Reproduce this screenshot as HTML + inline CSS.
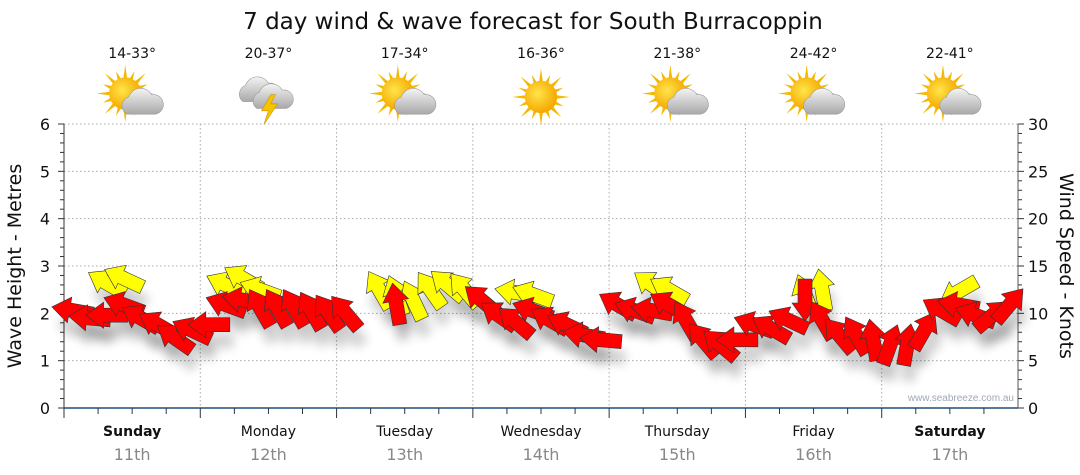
<!DOCTYPE html>
<html><head><meta charset="utf-8"><style>
body{margin:0;background:#fff;font-family:"DejaVu Sans","Liberation Sans",sans-serif}
svg{display:block}
</style></head><body>
<svg id="chart" width="1080" height="475" viewBox="0 0 1080 475" xmlns="http://www.w3.org/2000/svg" font-family="DejaVu Sans, Liberation Sans, sans-serif">
<defs>
<filter id="sh" x="-50%" y="-50%" width="200%" height="250%"><feGaussianBlur stdDeviation="5"/></filter>
<radialGradient id="sun" cx="0.4" cy="0.4" r="0.6"><stop offset="0" stop-color="#ffe54a"/><stop offset="1" stop-color="#f5a800"/></radialGradient>
<linearGradient id="cloud" x1="0" y1="0" x2="0" y2="1"><stop offset="0" stop-color="#f4f4f4"/><stop offset="1" stop-color="#a8a8a8"/></linearGradient>
</defs>
<text x="533" y="29" font-size="23" text-anchor="middle" fill="#111">7 day wind &amp; wave forecast for South Burracoppin</text>
<g id="icons"></g>
<g id="grid"></g>
<g id="axes"></g>
<text transform="translate(21,266) rotate(-90)" font-size="19" text-anchor="middle" fill="#111">Wave Height - Metres</text>
<text transform="translate(1060,266) rotate(90)" font-size="19" text-anchor="middle" fill="#111">Wind Speed - Knots</text>
<text x="1014" y="401" font-size="10" text-anchor="end" fill="#a0a8b4" font-family="Liberation Sans, sans-serif">www.seabreeze.com.au</text>
<g id="shadows"></g>
<g id="arrows"></g>
</svg>
<script>
const days = ["Sunday","Monday","Tuesday","Wednesday","Thursday","Friday","Saturday"];
const dates = ["11th","12th","13th","14th","15th","16th","17th"];
const boldDays = [true,false,false,false,false,false,true];
const temps = ["14-33°","20-37°","17-34°","16-36°","21-38°","24-42°","22-41°"];
const icons = ["partly","storm","partly","sunny","partly","partly","partly"];
const waveTicks = [0,1,2,3,4,5,6];
const knotTicks = [0,5,10,15,20,25,30];
// wind speed (knots) every 3 hours, 8 per day
const windKnots = [10.3,9.5,9.8,10.9,9.5,8.8,7.4,8.2, 8.8,10.9,11.4,10.6,10.6,10.6,10.3,10.1,
 10.1,null,null,11.0,null,null,null,null, 11.4,9.8,9.1,10.3,9.3,8.8,7.7,7.2,
 10.9,10.3,10.3,10.9,9.3,7.2,6.7,7.2, 8.8,8.4,9.3,11.4,9.3,7.7,7.7,7.2,
 6.7,6.7,8.2,10.3,10.9,9.8,9.8,10.9];
// wind direction (degrees, from) for red series
const windDir = [100,95,90,110,120,120,125,115, 90,110,100,150,150,150,150,145,
 140,0,0,170,0,0,0,0, 130,125,130,110,120,115,100,95,
 120,110,100,120,150,140,130,90, 110,120,115,0,150,140,150,170,
 200,190,210,120,100,110,230,220];
// yellow series (knots)
const gustKnots = [null,null,13.2,13.7,null,null,null,null, null,13.0,13.7,12.5,null,null,null,null,
 null,null,12.5,11.9,11.4,12.5,13.0,12.5, null,null,12.2,12.0,null,null,null,null,
 null,null,13.0,12.5,null,null,null,null, null,null,null,12.0,12.5,null,null,null,
 null,null,null,null,12.3,null,null,null];
const gustDir = [0,0,120,115,0,0,0,0, 0,115,120,110,0,0,0,0,
 0,0,150,160,155,145,130,140, 0,0,100,110,0,0,0,0,
 0,0,125,120,0,0,0,0, 0,0,0,160,170,0,0,0,
 0,0,0,0,60,0,0,0];

const NS="http://www.w3.org/2000/svg";
const X0=64,X1=1018,Y0=408,Y1=124,DW=(X1-X0)/7;
const yK=k=>Y0-(Y0-Y1)*k/30;
const xI=i=>X0+(i+0.5)*DW/8;
function mk(tag,attrs,parent){const e=document.createElementNS(NS,tag);for(const k in attrs)e.setAttribute(k,attrs[k]);parent.appendChild(e);return e;}
const grid=document.getElementById('grid'),axes=document.getElementById('axes');
waveTicks.forEach(m=>{
 const y=Y0-(Y0-Y1)*m/6;
 if(m>0){const l=mk('line',{x1:X0,x2:X1,y1:y,y2:y,stroke:'#aaa','stroke-dasharray':'1.5,2.5'},grid);
 }
 const t=mk('text',{x:X0-14,y:y+6,'font-size':16,'text-anchor':'end',fill:'#111'},axes);t.textContent=m;
 
 mk('line',{x1:X0-6,x2:X0,y1:y,y2:y,stroke:'#333'},axes);
 for(let j=1;j<5&&m<6;j++){const yy=y-(Y0-Y1)/6*j/5;mk('line',{x1:X0-4,x2:X0,y1:yy,y2:yy,stroke:'#333'},axes);}
});
knotTicks.forEach(k=>{
 const y=yK(k);
 const t=mk('text',{x:X1+10,y:y+6,'font-size':16,fill:'#111'},axes);t.textContent=k;
 
 mk('line',{x1:X1,x2:X1+6,y1:y,y2:y,stroke:'#333'},axes);
 for(let j=1;j<5&&k<30;j++){const yy=y-(Y0-Y1)/30*j;mk('line',{x1:X1,x2:X1+4,y1:yy,y2:yy,stroke:'#333'},axes);}
});
mk('line',{x1:X0,x2:X0,y1:Y1,y2:Y0,stroke:'#333'},axes);
mk('line',{x1:X1,x2:X1,y1:Y1,y2:Y0,stroke:'#555'},axes);
mk('line',{x1:X0,x2:X1,y1:Y0,y2:Y0,stroke:'#1d4f7a','stroke-width':1.5},axes);
days.forEach((d,i)=>{
 const xs=X0+i*DW,xc=xs+DW/2;
 if(i>0){const l=mk('line',{x1:xs,x2:xs,y1:Y1,y2:Y0,stroke:'#aaa','stroke-dasharray':'1.5,2.5'},grid);
 }
 for(let q=0;q<4;q++){const xx=xs+q*DW/4;mk('line',{x1:xx,x2:xx,y1:Y0,y2:Y0+(q==0?10:6),stroke:'#333'},axes);}
 const t=mk('text',{x:xc,y:436,'font-size':14,'text-anchor':'middle',fill:'#111','font-weight':boldDays[i]?'bold':'normal'},axes);t.textContent=d;
 
 const t2=mk('text',{x:xc,y:460,'font-size':16,'text-anchor':'middle',fill:'#888'},axes);t2.textContent=dates[i];
 
 const t3=mk('text',{x:xc,y:58,'font-size':14,'text-anchor':'middle',fill:'#111'},axes);t3.textContent=temps[i];
 
 drawIcon(icons[i],xc,97);
});
function drawIcon(type,cx,cy){
 const g=mk('g',{transform:`translate(${cx},${cy}) scale(1.15)`},document.getElementById('icons'));
 
 if(type!=='storm'){
  const sx=type==='sunny'?0:-6,sy=type==='sunny'?0:-3;
  for(let a=0;a<16;a++){const r=a*Math.PI/8,L=a%2?21:25;
   mk('polygon',{points:`${sx+Math.cos(r-0.15)*12},${sy+Math.sin(r-0.15)*12} ${sx+Math.cos(r)*L},${sy+Math.sin(r)*L} ${sx+Math.cos(r+0.15)*12},${sy+Math.sin(r+0.15)*12}`,fill:'#f5b800'},g);}
  mk('circle',{cx:sx,cy:sy,r:14,fill:'url(#sun)'},g);
  if(type==='partly'){
   mk('path',{d:'M-4,15 a8,8 0 0 1 1,-15 a11,11 0 0 1 20,-2 a8,8 0 0 1 3,17 z',fill:'url(#cloud)',stroke:'#999','stroke-width':0.5},g);
  }
 } else {
  mk('path',{d:'M-22,4 a8,8 0 0 1 2,-14 a11,11 0 0 1 20,-2 a8,8 0 0 1 3,16 z',fill:'url(#cloud)',stroke:'#999','stroke-width':0.5},g);
  mk('path',{d:'M-10,10 a8,8 0 0 1 2,-14 a11,11 0 0 1 20,-2 a8,8 0 0 1 3,16 z',fill:'url(#cloud)',stroke:'#999','stroke-width':0.5},g);
  mk('polygon',{points:'2,-2 -6,12 0,12 -4,24 8,6 2,6 6,-2',fill:'#f5c400',stroke:'#d49000','stroke-width':0.5},g);
 }
}
const arrowPath='M-21,0 L-3,-13 L-3,-7 L21,-7 L21,7 L-3,7 L-3,13 Z';
function drawArrow(vals,dirs,color,name){
 vals.forEach((v,i)=>{
  if(v===null)return;
  const x=xI(i),y=yK(v),rot=dirs[i]-90;
  const s=mk('path',{d:arrowPath,transform:`translate(${x+4},${y+16}) rotate(${rot})`,fill:'#000',opacity:0.18,filter:'url(#sh)'},document.getElementById('shadows'));
  
  const a=mk('path',{d:arrowPath,transform:`translate(${x},${y}) rotate(${rot})`,fill:color,stroke:'#333','stroke-width':0.6},document.getElementById('arrows'));
  
 });
}
drawArrow(gustKnots,gustDir,'#ffff00','yellow-wind-arrow');
drawArrow(windKnots,windDir,'#ff0000','red-wind-arrow');
</script>
</body></html>
